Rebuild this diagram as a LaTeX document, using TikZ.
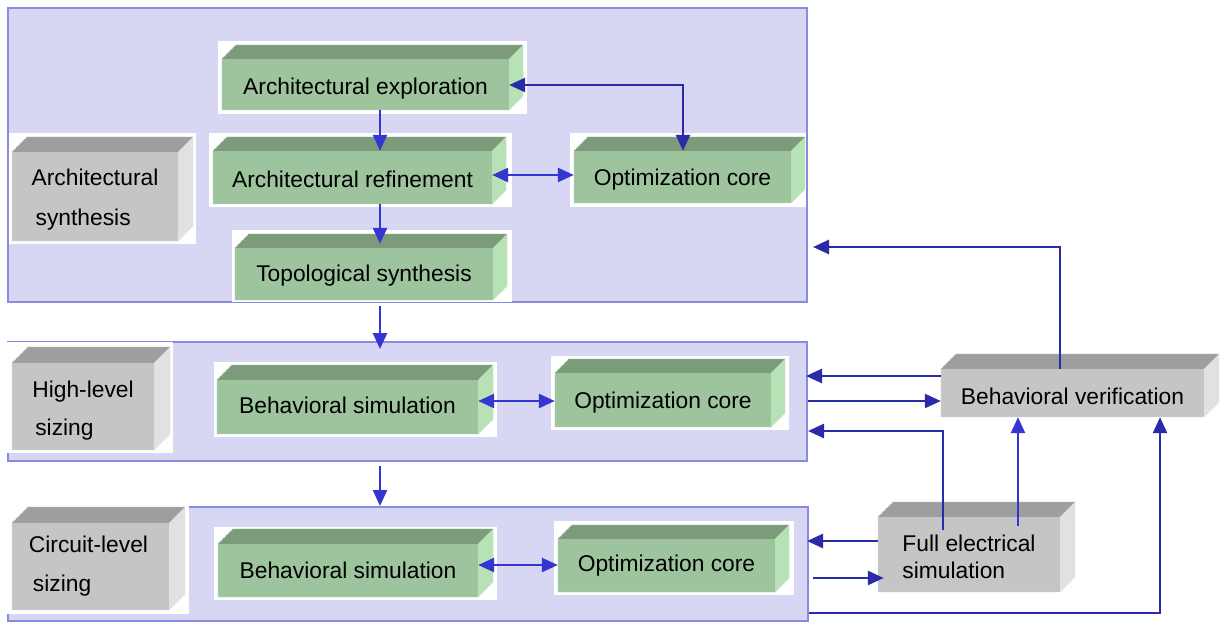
\documentclass[tikz,border=0pt]{standalone}
\usepackage{fontspec}
\setmainfont{Liberation Sans}
\usetikzlibrary{arrows.meta,fit}
\definecolor{panelfill}{HTML}{D7D7F4}
\definecolor{paneldraw}{HTML}{8A8AE0}
\definecolor{gfront}{HTML}{9DC49D}
\definecolor{gtop}{HTML}{7B9B7B}
\definecolor{gside}{HTML}{B6E2B6}
\definecolor{gedge}{HTML}{D8ECD8}
\definecolor{yfront}{HTML}{C5C5C5}
\definecolor{ytop}{HTML}{9E9E9E}
\definecolor{yside}{HTML}{E1E1E1}
\definecolor{yedge}{HTML}{EFEFEF}
\definecolor{arrdark}{HTML}{2B2BAA}
\definecolor{arrbright}{HTML}{3535D2}
\tikzset{
  panel/.style={fill=panelfill, draw=paneldraw, line width=2pt, inner sep=0pt},
  whitebg/.style={fill=white},
  frontg/.style={fill=gfront, inner sep=0pt},
  fronty/.style={fill=yfront, inner sep=0pt},
  topg/.style={fill=gtop}, sideg/.style={fill=gside},
  topy/.style={fill=ytop}, sidey/.style={fill=yside},
  edgeg/.style={draw=gedge, line width=0.8pt, dash pattern=on 1pt off 1pt},
  edgey/.style={draw=yedge, line width=0.8pt, dash pattern=on 1pt off 1pt},
  txt/.style={inner sep=0pt, align=left, font=\fontsize{22.8}{27}\selectfont},
  arrd/.style={draw=arrdark, line width=2.6pt, ->},
  arrb/.style={draw=arrbright, line width=2.6pt, ->},
  arrdd/.style={draw=arrdark, line width=2.6pt, <->},
  arrbb/.style={draw=arrbright, line width=2.6pt, <->},
}
% #1 style (g/y), #2 name, #3 x1, #4 y1, #5 x2, #6 y2, #7 depth, #8 text, #9 text options
\newcommand{\mycube}[9]{%
  \node[front#1, fit={(#3,#4+#7) (#5-#7,#6)}] (#2) {};
  \fill[top#1] (#2.north west) -- ++(#7,-#7) -- ([shift={(#7,-#7)}]#2.north east) -- (#2.north east) -- cycle;
  \fill[side#1] (#2.north east) -- ++(#7,-#7) -- ([shift={(#7,-#7)}]#2.south east) -- (#2.south east) -- cycle;
  \draw[edge#1] (#2.south west) -- (#2.north west) -- ++(#7,-#7) -- ([shift={(#7,-#7)}]#2.north east) -- ([shift={(#7,-#7)}]#2.south east) -- (#2.south east) -- cycle;
  \node[txt, #9] (#2t) at (#2.center) {#8};
}
\begin{document}
\begin{tikzpicture}[x=1pt, y=-1pt, >={Triangle[length=16pt,width=14pt]}]
\useasboundingbox (0,0) rectangle (1222,623);
\fill[white] (0,0) rectangle (1222,623);

% panels
\node[panel, fit={(8,8) (807,302)}] (P1) {};
\node[panel, fit={(8,342) (807,461)}] (P2) {};
\node[panel, fit={(8,507) (808,621)}] (P3) {};

% white backgrounds
\fill[whitebg] (218,41) rectangle (527,114);
\fill[whitebg] (209,133) rectangle (512,207);
\fill[whitebg] (570,133) rectangle (806,207);
\fill[whitebg] (232,230) rectangle (512,302);
\fill[whitebg] (9,133) rectangle (196,244);
\fill[whitebg] (214,362) rectangle (497,437);
\fill[whitebg] (551,356) rectangle (789,430);
\fill[whitebg] (7,342) rectangle (173,453);
\fill[whitebg] (214,527) rectangle (497,600);
\fill[whitebg] (554,521) rectangle (794,595);
\fill[whitebg] (7,503) rectangle (189,614);

% boxes
\mycube{g}{ae}{222}{45}{523}{110}{14}{Architectural exploration}{yshift=-4pt}
\mycube{g}{ar}{213}{137}{506}{204}{14}{Architectural refinement}{yshift=-2pt}
\mycube{g}{oc}{574}{137}{805}{203}{14}{Optimization core}{yshift=-3pt}
\mycube{g}{ts}{235}{234}{507}{300}{14}{Topological synthesis}{yshift=-2pt}
\mycube{y}{as}{12}{137}{193}{241}{15}{Architectural\\\hspace*{4pt}synthesis}{font=\fontsize{22.8}{40}\selectfont, yshift=-3pt}
\mycube{g}{hb}{217}{365}{493}{434}{15}{Behavioral simulation}{yshift=2pt}
\mycube{g}{ho}{555}{359}{785}{427}{14}{Optimization core}{yshift=-3pt}
\mycube{y}{hl}{12}{347}{170}{450}{16}{High-level\\\hspace*{3pt}sizing}{font=\fontsize{22.8}{38}\selectfont, yshift=-4pt}
\mycube{g}{cb}{218}{529}{493}{597}{15}{Behavioral simulation}{}
\mycube{g}{co}{558}{525}{789}{592}{14}{Optimization core}{}
\mycube{y}{cl}{12}{507}{185}{610}{16}{Circuit-level\\\hspace*{4pt}sizing}{font=\fontsize{22.8}{39}\selectfont, xshift=-2pt}
\mycube{y}{bv}{941}{354}{1219}{417}{15}{Behavioral verification}{yshift=-3pt}
\mycube{y}{fe}{878}{502}{1075}{592}{15}{Full electrical\\simulation}{yshift=-2pt}

% helper coordinates
\coordinate (xA) at (380,0);
\coordinate (xB) at (683,0);
\coordinate (xC) at (1060,0);
\coordinate (xD) at (943,0);
\coordinate (xE) at (1018,0);
\coordinate (xF) at (1160,0);
\coordinate (yA) at (0,247);
\coordinate (yB) at (0,376);
\coordinate (yC) at (0,401);
\coordinate (yD) at (0,431);
\coordinate (yE) at (0,541);
\coordinate (yF) at (0,578);
\coordinate (yG) at (0,613);
\coordinate (yH) at (0,565);
\coordinate (yI) at (0,175);
\coordinate (yJ) at (0,85);

% connectors
\draw[arrb] (ae.south -| xA) -- (ar.north -| xA);
\draw[arrb, shorten >=4pt] (ar.south -| xA) -- (ts.north -| xA);
\draw[arrdd] (ae.east |- yJ) -| (oc.north -| xB);
\draw[arrbb] (ar.east |- yI) -- (oc.west |- yI);
\draw[arrd] (bv.north -| xC) |- ([xshift=5pt]P1.east |- yA);
\draw[arrb, shorten <=6pt, shorten >=-8pt] (ts.south -| xA) -- (P2.north -| xA);
\draw[arrb, shorten <=4pt] (P2.south -| xA) -- (P3.north -| xA);
\draw[arrbb] (hb.east |- yC) -- (ho.west |- yC);
\draw[arrbb] (cb.east |- yH) -- (co.west |- yH);
\draw[arrd] (bv.west |- yB) -- ([xshift=-2pt]P2.east |- yB);
\draw[arrd] (P2.east |- yC) -- (bv.west |- yC);
\draw[arrd, shorten <=-13pt] (fe.north -| xD) |- (P2.east |- yD);
\draw[arrb, shorten <=-9pt] (fe.north -| xE) -- (bv.south -| xE);
\draw[arrd] (fe.west |- yE) -- ([xshift=-2pt]P3.east |- yE);
\draw[arrd, shorten <=4pt, shorten >=-6pt] (P3.east |- yF) -- (fe.west |- yF);
\draw[arrd] (P3.east |- yG) -| (bv.south -| xF);
\end{tikzpicture}
\end{document}
